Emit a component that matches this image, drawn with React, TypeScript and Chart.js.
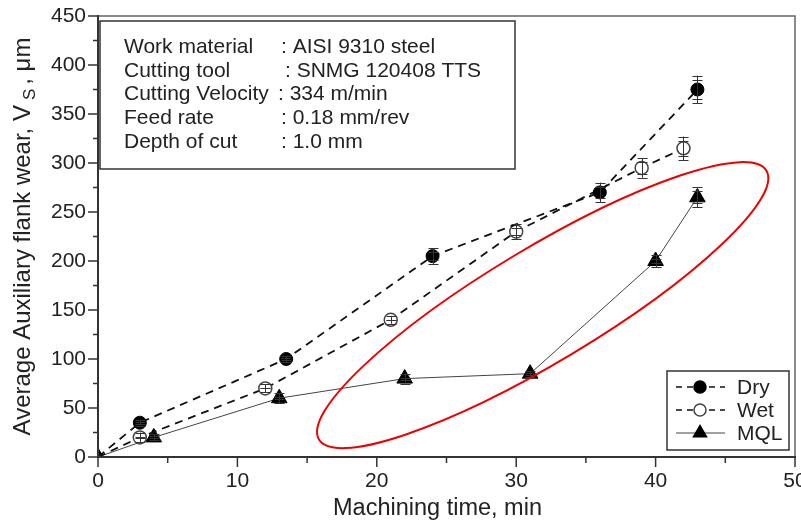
import React, { useEffect, useRef } from "react";
import { Chart, registerables } from "chart.js";

Chart.register(...registerables);

// ---- data ----
const dryTime = [0, 3, 13.5, 24, 36, 43];
const dryWear = [0, 35, 100, 205, 270, 375];
const dryErr = [0, 3, 3, 8, 10, 14];

const wetTime = [0, 3, 12, 21, 30, 39, 42];
const wetWear = [0, 20, 70, 140, 230, 295, 315];
const wetErr = [0, 5, 4, 4, 8, 10, 12];

const mqlTime = [0, 4, 13, 22, 31, 40, 43];
const mqlWear = [0, 20, 60, 80, 85, 200, 265];
const mqlErr = [0, 3, 5, 5, 3, 6, 10];

const xTickValues = [0, 10, 20, 30, 40, 50];
const yTickValues = [0, 50, 100, 150, 200, 250, 300, 350, 400, 450];

const seriesNames = ["Dry", "Wet", "MQL"];
const infoLabels = ["Work material", "Cutting tool", "Cutting Velocity", "Feed rate", "Depth of cut"];
const infoValues = [": AISI 9310 steel", ": SNMG 120408 TTS", ": 334 m/min", ": 0.18 mm/rev", ": 1.0 mm"];

const xTitle = "Machining time, min";
const yTitleMain = "Average Auxiliary flank wear, V";
const yTitleSub = "S";
const yTitleEnd = ", \u03bcm";

// highlighted region (ellipse centre, in data units)
const ellipseCentre = { x: 31.9, y: 155 };

const FONT = '"Liberation Sans", Arial, Helvetica, sans-serif';

const toPoints = (xs: number[], ys: number[]) => xs.map((x, i) => ({ x, y: ys[i] }));

const overlayPlugin = {
  id: "overlay",
  afterDatasetsDraw(chart: any) {
    const ctx: CanvasRenderingContext2D = chart.ctx;
    const xs = chart.scales.x;
    const ys = chart.scales.y;

    // error bars
    const errs = [dryErr, wetErr, mqlErr];
    ctx.save();
    ctx.strokeStyle = "#333";
    ctx.lineWidth = 1;
    chart.data.datasets.forEach((ds: any, di: number) => {
      const meta = chart.getDatasetMeta(di);
      meta.data.forEach((pt: any, i: number) => {
        const e = errs[di][i];
        if (!e) return;
        const v = ds.data[i].y;
        const px = Math.round(pt.x) + 0.5;
        const yt = ys.getPixelForValue(v + e);
        const yb = ys.getPixelForValue(v - e);
        ctx.beginPath();
        ctx.moveTo(px, yt);
        ctx.lineTo(px, yb);
        const caps = [yt, yt + 4, yb, yb - 4];
        caps.forEach((cy) => {
          const yy = Math.round(cy) + 0.5;
          ctx.moveTo(px - 5, yy);
          ctx.lineTo(px + 5, yy);
        });
        ctx.stroke();
      });
    });
    ctx.restore();

    // red ellipse
    ctx.save();
    ctx.strokeStyle = "#ee0000";
    ctx.lineWidth = 2;
    ctx.beginPath();
    ctx.ellipse(
      xs.getPixelForValue(ellipseCentre.x),
      ys.getPixelForValue(ellipseCentre.y),
      261,
      57,
      (-31 * Math.PI) / 180,
      0,
      Math.PI * 2
    );
    ctx.stroke();
    ctx.restore();
  },
  afterDraw(chart: any) {
    const ctx: CanvasRenderingContext2D = chart.ctx;
    const xs = chart.scales.x;
    const ys = chart.scales.y;
    const a = chart.chartArea;

    // frame
    ctx.save();
    ctx.strokeStyle = "#666";
    ctx.lineWidth = 1.5;
    ctx.beginPath();
    ctx.moveTo(a.left, a.top);
    ctx.lineTo(a.right, a.top);
    ctx.lineTo(a.right, a.bottom);
    ctx.stroke();
    ctx.strokeStyle = "#333";
    ctx.lineWidth = 2;
    ctx.beginPath();
    ctx.moveTo(a.left, a.top - 1);
    ctx.lineTo(a.left, a.bottom);
    ctx.lineTo(a.right + 1, a.bottom);
    ctx.stroke();

    // ticks
    ctx.lineWidth = 1.5;
    ctx.beginPath();
    for (let v = 0; v <= 50; v += 5) {
      const px = xs.getPixelForValue(v);
      const len = v % 10 === 0 ? 10 : 6;
      ctx.moveTo(px, a.bottom);
      ctx.lineTo(px, a.bottom + len);
    }
    for (let v = 0; v <= 450; v += 25) {
      const py = ys.getPixelForValue(v);
      const len = v % 50 === 0 ? 10 : 5;
      ctx.moveTo(a.left, py);
      ctx.lineTo(a.left - len, py);
    }
    ctx.stroke();
    ctx.restore();

    // x tick labels
    ctx.save();
    ctx.fillStyle = "#222";
    ctx.font = `21px ${FONT}`;
    ctx.textAlign = "center";
    ctx.textBaseline = "middle";
    xTickValues.forEach((v) => {
      ctx.fillText(String(v), xs.getPixelForValue(v), a.bottom + 24);
    });
    ctx.restore();

    // axis titles
    ctx.save();
    ctx.fillStyle = "#222";
    ctx.font = `23.5px ${FONT}`;
    ctx.textAlign = "center";
    ctx.textBaseline = "alphabetic";
    ctx.fillText(xTitle, (a.left + a.right) / 2 - 9, 515);

    // y title with subscript
    ctx.translate(30, (a.top + a.bottom) / 2);
    ctx.rotate(-Math.PI / 2);
    ctx.textAlign = "left";
    ctx.font = `24px ${FONT}`;
    const w1 = ctx.measureText(yTitleMain).width;
    const w3 = ctx.measureText(yTitleEnd).width;
    ctx.font = `17px ${FONT}`;
    const w2 = ctx.measureText(yTitleSub).width;
    const gap1 = 5;
    const gap2 = 4;
    const total = w1 + gap1 + w2 + gap2 + w3;
    let cx = -total / 2;
    ctx.font = `24px ${FONT}`;
    ctx.fillText(yTitleMain, cx, 0);
    cx += w1 + gap1;
    ctx.font = `17px ${FONT}`;
    ctx.fillText(yTitleSub, cx, 5);
    cx += w2 + gap2;
    ctx.font = `24px ${FONT}`;
    ctx.fillText(yTitleEnd, cx, 0);
    ctx.restore();

    // info box
    ctx.save();
    const bx = a.left + 2;
    const by = a.top + 5;
    const bw = 415;
    const bh = 148;
    ctx.fillStyle = "#fff";
    ctx.fillRect(bx, by, bw, bh);
    ctx.strokeStyle = "#333";
    ctx.lineWidth = 1.5;
    ctx.strokeRect(bx, by, bw, bh);
    ctx.fillStyle = "#222";
    ctx.font = `21px ${FONT}`;
    ctx.textBaseline = "middle";
    ctx.textAlign = "left";
    const colX = [281, 285, 278, 281, 281];
    infoLabels.forEach((lab, i) => {
      const ty = by + 26 + i * 23.8;
      ctx.fillText(lab, 124, ty);
      ctx.fillText(infoValues[i], colX[i], ty);
    });
    ctx.restore();

    // legend
    ctx.save();
    const lx = a.right - 128;
    const ly = a.bottom - 86;
    const lw = 122;
    const lh = 79;
    ctx.fillStyle = "#fff";
    ctx.fillRect(lx, ly, lw, lh);
    ctx.strokeStyle = "#333";
    ctx.lineWidth = 1.5;
    ctx.strokeRect(lx, ly, lw, lh);
    const rows = [16, 39, 62];
    seriesNames.forEach((name, i) => {
      const ry = ly + rows[i];
      ctx.strokeStyle = i === 2 ? "#444" : "#111";
      ctx.lineWidth = i === 2 ? 1 : 1.5;
      ctx.setLineDash(i === 2 ? [] : [6, 5]);
      ctx.beginPath();
      ctx.moveTo(lx + 9, ry);
      ctx.lineTo(lx + 58, ry);
      ctx.stroke();
      ctx.setLineDash([]);
      const mx = lx + 33;
      if (i === 2) {
        const r = 9;
        ctx.fillStyle = "#000";
        ctx.beginPath();
        ctx.moveTo(mx, ry - r);
        ctx.lineTo(mx + r * 0.866, ry + r * 0.5);
        ctx.lineTo(mx - r * 0.866, ry + r * 0.5);
        ctx.closePath();
        ctx.fill();
      } else {
        ctx.beginPath();
        ctx.arc(mx, ry, 6, 0, Math.PI * 2);
        ctx.fillStyle = i === 0 ? "#000" : "#fff";
        ctx.fill();
        ctx.strokeStyle = i === 0 ? "#000" : "#444";
        ctx.lineWidth = 1.5;
        ctx.stroke();
      }
      ctx.fillStyle = "#222";
      ctx.font = `21px ${FONT}`;
      ctx.textBaseline = "middle";
      ctx.textAlign = "left";
      ctx.fillText(name, lx + 70, ry + 1);
    });
    ctx.restore();
  },
};

export default function App() {
  const ref = useRef<HTMLCanvasElement | null>(null);

  useEffect(() => {
    if (!ref.current) return;
    const radiusNoOrigin = (ctx: any) => (ctx.dataIndex === 0 ? 0 : 6.5);
    const chart = new Chart(ref.current, {
      type: "line",
      data: {
        datasets: [
          {
            label: seriesNames[0],
            data: toPoints(dryTime, dryWear),
            borderColor: "#111",
            borderWidth: 1.8,
            borderDash: [8, 6],
            pointStyle: "circle",
            pointRadius: radiusNoOrigin,
            pointBackgroundColor: "#000",
            pointBorderColor: "#000",
            pointBorderWidth: 1,
            fill: false,
            tension: 0,
            clip: 0,
          },
          {
            label: seriesNames[1],
            data: toPoints(wetTime, wetWear),
            borderColor: "#111",
            borderWidth: 1.8,
            borderDash: [8, 6],
            pointStyle: "circle",
            pointRadius: radiusNoOrigin,
            pointBackgroundColor: "#fff",
            pointBorderColor: "#444",
            pointBorderWidth: 1.5,
            fill: false,
            tension: 0,
            clip: 0,
          },
          {
            label: seriesNames[2],
            data: toPoints(mqlTime, mqlWear),
            borderColor: "#444",
            borderWidth: 1,
            pointStyle: "triangle",
            pointRadius: 9,
            pointBackgroundColor: "#000",
            pointBorderColor: "#000",
            pointBorderWidth: 1,
            fill: false,
            tension: 0,
            clip: 0,
          },
        ],
      },
      options: {
        responsive: false,
        animation: false,
        events: [],
        layout: { autoPadding: false, padding: { top: 16, right: 6, left: 0, bottom: 0 } },
        plugins: {
          legend: { display: false },
          tooltip: { enabled: false },
          title: { display: false },
        },
        scales: {
          x: {
            type: "linear",
            min: 0,
            max: 50,
            afterFit: (s: any) => {
              s.height = 67;
            },
            afterBuildTicks: (s: any) => {
              s.ticks = xTickValues.map((v) => ({ value: v }));
            },
            ticks: { display: false },
            grid: { display: false, drawTicks: true, tickLength: 10 },
            border: { display: false },
          },
          y: {
            type: "linear",
            min: 0,
            max: 450,
            afterFit: (s: any) => {
              s.width = 98;
            },
            afterBuildTicks: (s: any) => {
              s.ticks = yTickValues.map((v) => ({ value: v }));
            },
            ticks: {
              font: { family: FONT, size: 21 },
              color: "#222",
              padding: 2,
            },
            grid: { display: false, drawTicks: true, tickLength: 10 },
            border: { display: false },
          },
        },
      },
      plugins: [overlayPlugin],
    });
    return () => chart.destroy();
  }, []);

  return (
    <div style={{ position: "fixed", left: 0, top: 0, width: 801, height: 524, background: "#fff" }}>
      <canvas ref={ref} width={801} height={524} style={{ display: "block" }} />
    </div>
  );
}
